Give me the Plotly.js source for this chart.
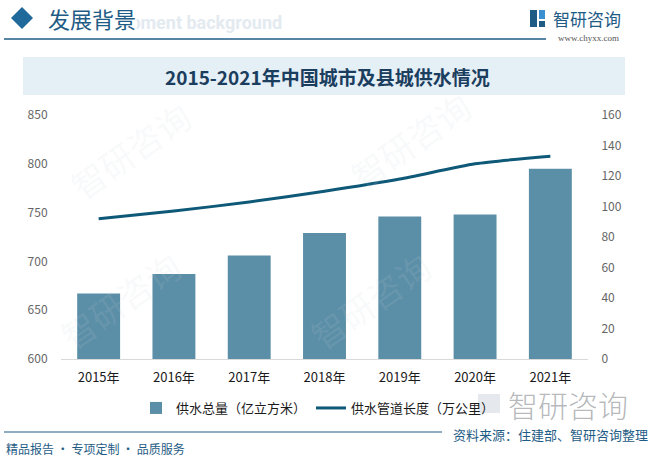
<!DOCTYPE html>
<html>
<head>
<meta charset="utf-8">
<script src="https://cdn.plot.ly/plotly-3.0.1.min.js"></script>
<style>
  html, body { margin: 0; padding: 0; background: #fff; }
  #chart { width: 655px; height: 458px; }
</style>
</head>
<body>
<div id="chart"></div>
<script>
// data
var years = ['2015年', '2016年', '2017年', '2018年', '2019年', '2020年', '2021年'];
var supplyTotal = [667, 687, 706, 729, 746, 748, 795];      // 供水总量（亿立方米）
var pipeLength = [92, 97, 103, 110, 118, 128, 133];         // 供水管道长度（万公里）

var font = '"Noto Sans CJK SC", "Microsoft YaHei", sans-serif';

// plot area in pixels: x 61..588, y 115..359
function px(x) { return (x - 61) / 527; }
function py(y) { return (359 - y) / 244; }

var bars = {
  x: years,
  y: supplyTotal,
  name: '供水总量（亿立方米）',
  type: 'bar',
  marker: { color: '#5b8ea7' },
  hoverinfo: 'y'
};

var line = {
  x: years,
  y: pipeLength,
  name: '供水管道长度（万公里）',
  type: 'scatter',
  mode: 'lines',
  yaxis: 'y2',
  line: { color: '#0e5878', width: 3, shape: 'spline', smoothing: 0.6 }
};

function txt(text, x, y, size, color, extra) {
  var a = {
    text: text, xref: 'paper', yref: 'paper', x: px(x), y: py(y),
    showarrow: false, xanchor: 'left', yanchor: 'middle',
    font: { family: font, size: size, color: color }
  };
  for (var k in extra) a[k] = extra[k];
  return a;
}

var annotations = [];
// faint watermarks
var wm = [[130, 150], [410, 140], [120, 300], [370, 300]];
for (var i = 0; i < wm.length; i++) {
  annotations.push(txt('智研咨询', wm[i][0], wm[i][1], 34, 'rgba(200,208,216,0.13)', { xanchor: 'center', textangle: -35 }));
}
annotations = annotations.concat([
  txt('development background', 284, 22, 18, '#e3eaf0', { xanchor: 'right', font: { family: 'Roboto, sans-serif', size: 18, color: '#e3eaf0', weight: 700 } }),
  txt('发展背景', 47, 18, 22, '#1f5c85', { bgcolor: '#ffffff', borderpad: 0 }),
  txt('智研咨询', 551, 18, 17, '#1f5c85'),
  txt('www.chyxx.com', 556, 38, 9, '#555', { font: { family: '"Liberation Serif", serif', size: 9, color: '#555' } }),
  txt('<b>2015-2021年中国城市及县城供水情况</b>', 327, 77, 19, '#1b3d5e', { xanchor: 'center' }),
  txt('智研咨询', 506, 404, 30, 'rgba(120,125,130,0.55)', { font: { family: font, size: 30, color: 'rgba(120,125,130,0.55)', weight: 300 } }),
  txt('资料来源：住建部、智研咨询整理', 451, 434, 13, '#1f5c85'),
  txt('精品报告 · 专项定制 · 品质服务', 4, 448, 12, '#1f5c85')
]);

var shapes = [
  { type: 'rect', xref: 'paper', yref: 'paper', x0: px(23), x1: px(625), y0: py(57), y1: py(95),
    fillcolor: '#e4eff6', line: { width: 0 }, layer: 'below' },
  { type: 'line', xref: 'paper', yref: 'paper', x0: px(4), x1: px(546), y0: py(39), y1: py(39),
    line: { color: '#1f5c85', width: 1.5 } },
  { type: 'path', xref: 'paper', yref: 'paper',
    path: 'M ' + px(11) + ' ' + py(18) + ' L ' + px(22) + ' ' + py(7) + ' L ' + px(33) + ' ' + py(18) + ' L ' + px(22) + ' ' + py(29) + ' Z',
    fillcolor: '#1f6a9a', line: { width: 0 } },
  { type: 'line', xref: 'paper', yref: 'paper', x0: px(4), x1: px(442), y0: py(432), y1: py(432),
    line: { color: '#1f5c85', width: 1.2 } },
  // logo mark
  { type: 'rect', xref: 'paper', yref: 'paper', x0: px(530), x1: px(537), y0: py(10), y1: py(27),
    fillcolor: '#1f5c85', line: { width: 0 } },
  { type: 'rect', xref: 'paper', yref: 'paper', x0: px(539), x1: px(545), y0: py(10), y1: py(19),
    fillcolor: '#3a8fd0', line: { width: 0 } },
  { type: 'rect', xref: 'paper', yref: 'paper', x0: px(539), x1: px(545), y0: py(21), y1: py(27),
    fillcolor: '#1f5c85', line: { width: 0 } },
  // watermark logo
  { type: 'rect', xref: 'paper', yref: 'paper', x0: px(478), x1: px(500), y0: py(394), y1: py(413),
    fillcolor: 'rgba(150,165,185,0.25)', line: { width: 0 }, layer: 'below' }
];

var layout = {
  width: 655,
  height: 458,
  margin: { l: 61, r: 67, t: 115, b: 99, pad: 0 },
  paper_bgcolor: '#ffffff',
  plot_bgcolor: 'rgba(0,0,0,0)',
  font: { family: font, size: 12, color: '#595959' },
  showlegend: true,
  bargap: 0.43,
  xaxis: {
    type: 'category',
    range: [-0.5, 6.5],
    showline: true,
    linecolor: '#d9d9d9',
    linewidth: 1,
    ticks: 'outside',
    ticklen: 6,
    tickcolor: 'rgba(0,0,0,0)',
    tickfont: { family: font, size: 13, color: '#1a1a1a' },
    fixedrange: true
  },
  yaxis: {
    range: [600, 850],
    dtick: 50,
    showgrid: false,
    zeroline: false,
    ticks: 'outside',
    ticklen: 10,
    tickcolor: 'rgba(0,0,0,0)',
    tickfont: { family: font, size: 12, color: '#666' }
  },
  yaxis2: {
    range: [0, 160],
    dtick: 20,
    overlaying: 'y',
    side: 'right',
    showgrid: false,
    zeroline: false,
    ticks: 'outside',
    ticklen: 10,
    tickcolor: 'rgba(0,0,0,0)',
    tickfont: { family: font, size: 12, color: '#666' }
  },
  legend: {
    orientation: 'h',
    x: px(318), xanchor: 'center',
    y: py(408), yanchor: 'middle',
    font: { family: font, size: 13, color: '#1a1a1a' },
    itemwidth: 30,
    bgcolor: 'rgba(0,0,0,0)'
  },
  annotations: annotations,
  shapes: shapes
};

Plotly.newPlot('chart', [bars, line], layout, { displayModeBar: false, staticPlot: true });
</script>
</body>
</html>
